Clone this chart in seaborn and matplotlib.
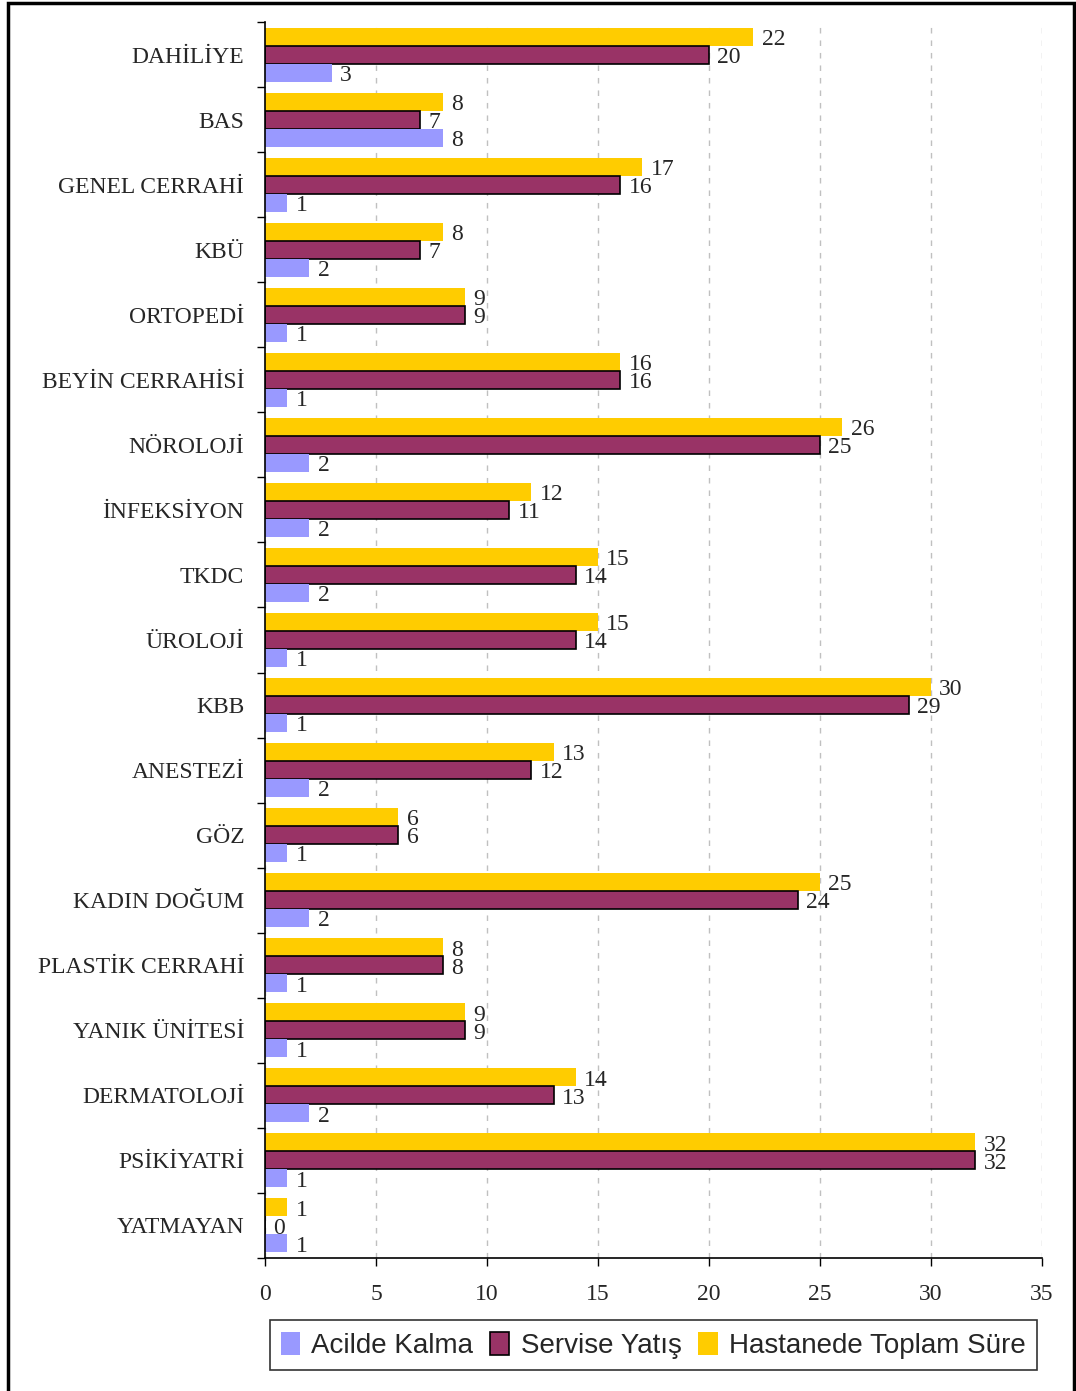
"""Horizontal grouped bars: days per department, three series."""
import matplotlib
matplotlib.use('Agg')
import matplotlib.pyplot as plt
from matplotlib.patches import Rectangle
import numpy as np
import pandas as pd
import seaborn as sns

departments = ['DAHİLİYE', 'BAS', 'GENEL CERRAHİ', 'KBÜ', 'ORTOPEDİ',
               'BEYİN CERRAHİSİ', 'NÖROLOJİ', 'İNFEKSİYON', 'TKDC', 'ÜROLOJİ',
               'KBB', 'ANESTEZİ', 'GÖZ', 'KADIN DOĞUM', 'PLASTİK CERRAHİ',
               'YANIK ÜNİTESİ', 'DERMATOLOJİ', 'PSİKİYATRİ', 'YATMAYAN']
acilde_kalma = [3, 8, 1, 2, 1, 1, 2, 2, 2, 1, 1, 2, 1, 2, 1, 1, 2, 1, 1]
servise_yatis = [20, 7, 16, 7, 9, 16, 25, 11, 14, 14, 29, 12, 6, 24, 8, 9, 13, 32, 0]
toplam_sure = [22, 8, 17, 8, 9, 16, 26, 12, 15, 15, 30, 13, 6, 25, 8, 9, 14, 32, 1]

series_names = ['Acilde Kalma', 'Servise Yatış', 'Hastanede Toplam Süre']
colors = {'Acilde Kalma': '#9999FF', 'Servise Yatış': '#993366',
          'Hastanede Toplam Süre': '#FFCC00'}

df = pd.DataFrame({'Bölüm': departments * 3,
                   'Seri': np.repeat(series_names, len(departments)),
                   'Gün': acilde_kalma + servise_yatis + toplam_sure})

sns.set_style('white')
plt.rcParams['font.family'] = ['Liberation Serif', 'DejaVu Serif']

fig = plt.figure(figsize=(10.76, 13.91), dpi=100)
ax = fig.add_axes([0.2463, 0.0956, 0.7221, 0.8886])

# top bar of each group is the total, so hue order runs top -> bottom
hue_order = ['Hastanede Toplam Süre', 'Servise Yatış', 'Acilde Kalma']
sns.barplot(data=df, x='Gün', y='Bölüm', hue='Seri', hue_order=hue_order,
            palette=colors, orient='h', width=0.83, saturation=1,
            errorbar=None, ax=ax, legend=False)

for cont, name in zip(ax.containers, hue_order):
    for bar in cont:
        if name == 'Servise Yatış':
            bar.set_edgecolor('black')
            bar.set_linewidth(1.2)
        else:
            bar.set_linewidth(0)
    labels = ax.bar_label(cont, fmt='%g', padding=6, fontsize=17)
    for t in labels:
        t.xyann = (6, -2)  # nudge slightly down like the original

ax.set_xlim(0, 35)
ax.set_ylim(len(departments) - 0.5, -0.5)
ax.set_xticks(np.arange(0, 36, 5))
ax.set_yticks(np.arange(-0.5, len(departments), 1), minor=True)
ax.tick_params(axis='y', which='major', length=0, pad=15, labelsize=17)
ax.tick_params(axis='y', which='minor', length=6, width=1, color='black', left=True)
ax.tick_params(axis='x', length=6, width=1, color='black', bottom=True,
               pad=13, labelsize=17)
ax.set_xlabel('')
ax.set_ylabel('')

ax.grid(axis='x', color='#c0c0c0', linestyle=(0, (4, 5)), linewidth=1)
ax.set_axisbelow(True)
for side in ['top', 'right']:
    ax.spines[side].set_visible(False)
for side in ['left', 'bottom']:
    ax.spines[side].set_color('black')
    ax.spines[side].set_linewidth(1.2)

handles = [Rectangle((0, 0), 1, 1, facecolor=colors[n],
                     edgecolor='black' if n == 'Servise Yatış' else 'none',
                     linewidth=1.2) for n in series_names]
leg = fig.legend(handles, series_names, loc='center', ncol=3,
                 bbox_to_anchor=(0.607, 0.033), frameon=True, fancybox=False,
                 edgecolor='black', handlelength=0.7, handleheight=0.9,
                 handletextpad=0.4, columnspacing=0.6, borderpad=0.4,
                 prop={'family': ['Liberation Sans', 'DejaVu Sans'],
                       'size': 20})
leg.get_frame().set_linewidth(1.2)

# outer border of the figure
fig.add_artist(Rectangle((0.0075, -0.01), 0.991, 1.008, transform=fig.transFigure,
                         fill=False, edgecolor='black', linewidth=2.5))

fig.savefig('out.png', dpi=100)
